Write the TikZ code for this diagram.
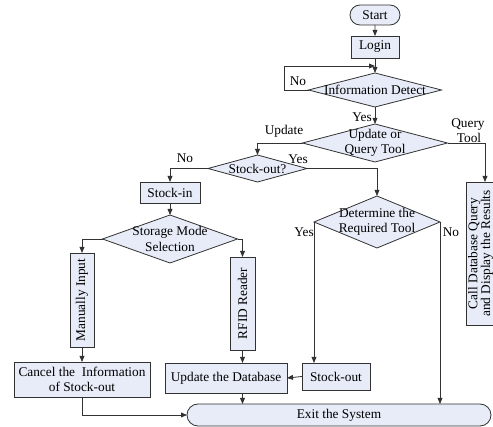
\documentclass[tikz,border=0pt]{standalone}
\usepackage{fontspec}
\setmainfont{Liberation Serif}
\usetikzlibrary{shapes.geometric,shapes.misc,arrows.meta}
\definecolor{boxfill}{RGB}{231,236,248}
\definecolor{linec}{RGB}{50,50,50}
\newcommand\pxu{0.75pt}
\tikzset{
  every node/.style={font=\fontsize{10}{11.5}\selectfont, inner sep=0pt, outer sep=0pt},
  stepbox/.style={draw=linec, fill=boxfill, line width=0.6pt, rectangle, align=center},
  dia/.style={draw=linec, fill=boxfill, line width=0.6pt, diamond},
  term/.style={draw=linec, fill=boxfill, line width=0.6pt, rounded rectangle},
  conn/.style={draw=linec, line width=0.6pt, -{Triangle[length=4.5pt,width=3.6pt]}},
  lbl/.style={text=black}
}
\begin{document}
\begin{tikzpicture}[x=0.75pt,y=-0.75pt]
\useasboundingbox (0,0) rectangle (493,427);
\clip (0,0) rectangle (493,427);

% nodes
\node[term, minimum width=50*\pxu, minimum height=20*\pxu] (start) at (375,15) {Start};
\node[stepbox, minimum width=48*\pxu, minimum height=22*\pxu] (login) at (375,47) {Login};
\node[dia, minimum width=133*\pxu, minimum height=34*\pxu] (info) at (375,90) {};
\node[lbl] (infot) at (info) {Information Detect};
\node[dia, minimum width=145*\pxu, minimum height=38*\pxu] (upd) at (375,143) {};
\node[lbl, align=center] (updt) at (upd) {Update or\\Query Tool};
\node[dia, minimum width=99*\pxu, minimum height=27*\pxu] (so) at (257.5,168.5) {};
\node[lbl] (sot) at (so) {Stock-out?};
\node[stepbox, minimum width=60*\pxu, minimum height=21*\pxu] (stin) at (170,192.5) {Stock-in};
\node[dia, minimum width=135*\pxu, minimum height=48*\pxu] (sms) at (170,239) {};
\node[lbl, align=center] (smst) at (sms) {Storage Mode\\Selection};
\node[stepbox, minimum width=24*\pxu, minimum height=94*\pxu] (man) at (82,300) {};
\node[lbl, rotate=90] (mant) at (man) {Manually Input};
\node[stepbox, minimum width=25*\pxu, minimum height=93*\pxu] (rfid) at (242.5,303.5) {};
\node[lbl, rotate=90] (rfidt) at (rfid) {RFID Reader};
\node[stepbox, minimum width=136*\pxu, minimum height=35*\pxu] (cancel) at (82,379.5) {Cancel the\ \ Information\\of Stock-out};
\node[stepbox, minimum width=122*\pxu, minimum height=30*\pxu] (udb) at (226,378) {Update the Database};
\node[stepbox, minimum width=68*\pxu, minimum height=27*\pxu] (sout) at (336,376.5) {Stock-out};
\node[dia, minimum width=126*\pxu, minimum height=52*\pxu] (det) at (377,222) {};
\node[lbl, align=center] (dett) at (det) {Determine the\\Required Tool};
\node[stepbox, minimum width=38*\pxu, minimum height=143*\pxu] (query) at (485,253.5) {};
\node[lbl, rotate=90, align=center, font=\fontsize{10}{9.5}\selectfont] (queryt) at (480.5,253.5) {Call Database Query\\and Display the Results};
\node[term, minimum width=304*\pxu, minimum height=22*\pxu] (exit) at (339,415) {Exit the System};

% labels
\node[lbl] (lno1) at (298,81) {No};
\node[lbl] (lyes1) at (362,117) {Yes};
\node[lbl] (lupd) at (284,131) {Update};
\node[lbl] (lq1) at (468,125) {Query};
\node[lbl] (lq2) at (469,138) {Tool};
\node[lbl] (lno2) at (185,158) {No};
\node[lbl] (lyes2) at (298,159) {Yes};
\node[lbl] (lyes3) at (304,232) {Yes};
\node[lbl] (lno3) at (451,232) {No};

% connectors
\coordinate (lp) at (284,66);
\coordinate (mg) at (375,66);
\draw[conn] (start) -- (login);
\draw[conn] (login) -- (info.north);
\draw[conn] (info.west) -| (lp) -- (mg);
\draw[conn] (info.south) -- (upd.north);
\draw[conn] (upd.west) -| (so.north);
\draw[conn] (upd.east) -| (query.north);
\draw[conn] (so.west) -| (stin.north);
\draw[conn] (so.east) -| (det.north);
\draw[conn] (stin.south) -- (sms.north);
\draw[conn] (sms.west) -| (man.north);
\draw[conn] (sms.east) -| (rfid.north);
\draw[conn] (man.south) -- (cancel.north);
\draw[conn] (rfid.south) -- (rfid.south |- udb.north);
\draw[conn] (sout.west) -- (udb.east);
\draw[conn] (det.west) -- (det.west |- sout.north);
\draw[conn] (det.east) -- (det.east |- exit.north);
\draw[conn] (rfid.south |- udb.south) -- (rfid.south |- exit.north);
\draw[conn] (cancel.south) |- (exit.west);
\end{tikzpicture}
\end{document}
